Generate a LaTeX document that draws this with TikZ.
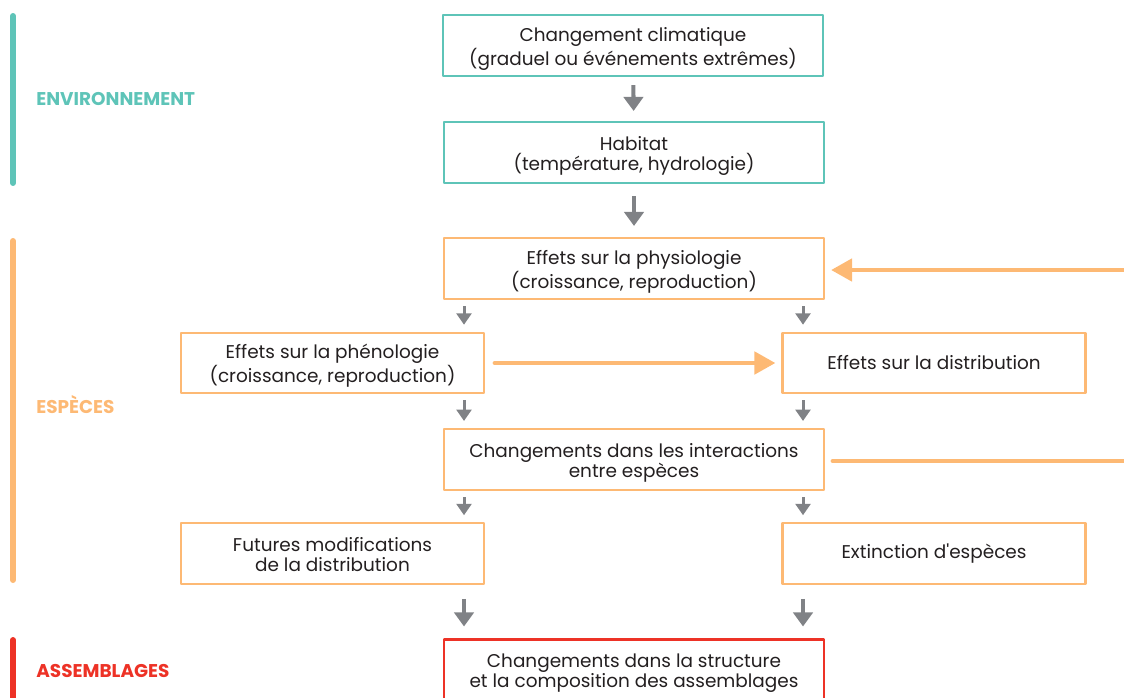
\documentclass[tikz,border=0pt]{standalone}
\usepackage{fontspec}
\setmainfont{Poppins}
\usetikzlibrary{arrows.meta}
\newcommand{\hautligne}{\rule{0pt}{13pt}}
\newcommand{\basligne}{\rule[-4.2pt]{0pt}{0pt}}
\begin{document}
\begin{tikzpicture}[x=0.02cm, y=-0.02cm, line cap=round, line join=round,
  box/.style={draw=#1, line width=1.2pt, fill=white, align=center, inner sep=0pt,
    text=txtdark, font=\fontsize{10.5}{11.2}\selectfont},
  widebox/.style={box=#1, minimum width=7.6cm, minimum height=1.22cm},
  sidebox/.style={box=#1, minimum width=6.06cm, minimum height=1.21cm},
  bigarrow/.style={draw=arrgray, line width=2.3pt, line cap=butt,
    -{Triangle[length=8pt, width=11pt]}},
  smallarrow/.style={draw=arrgray, line width=1.7pt, line cap=butt,
    -{Triangle[length=6.5pt, width=8.5pt]}, shorten <=0.12cm, shorten >=0.14cm},
  looparrow/.style={draw=orng, line width=2.8pt},
  sidelabel/.style={anchor=west, inner sep=0pt, font=\fontsize{10.5}{12}\selectfont\bfseries, text=#1},
  bar/.style={draw=#1, line width=3.4pt}]
  \definecolor{teal}{RGB}{94,196,184}
  \definecolor{orng}{RGB}{253,185,116}
  \definecolor{rouge}{RGB}{237,50,38}
  \definecolor{arrgray}{RGB}{128,130,134}
  \definecolor{txtdark}{RGB}{35,31,32}
  \useasboundingbox (0,0) rectangle (1124,697);
  \clip (0,0) rectangle (1124,697);

  % bandes a gauche
  \draw[bar=teal] (13,16) -- (13,183);
  \draw[bar=orng] (13,241) -- (13,580);
  \draw[bar=rouge] (13,640) -- (13,720);
  \node[sidelabel=teal] (lenv) at (36,99) {ENVIRONNEMENT};
  \node[sidelabel=orng] (lesp) at (36,405) {ESPÈCES};
  \node[sidelabel=rouge] (lass) at (36,671) {ASSEMBLAGES};

  % boites
  \node[widebox=teal] (clim) at (633,45.5) {\hautligne Changement climatique\\(graduel ou événements extrêmes)\basligne};
  \node[widebox=teal] (hab) at (634,152.5) {\hautligne Habitat\\(température, hydrologie)\basligne};
  \node[widebox=orng] (phys) at (634,268.5) {\hautligne Effets sur la physiologie\\(croissance, reproduction)\basligne};
  \node[sidebox=orng] (pheno) at (332.5,363) {\hautligne Effets sur la phénologie\\(croissance, reproduction)\basligne};
  \node[sidebox=orng] (distr) at (934,363) {Effets sur la distribution};
  \node[widebox=orng] (inter) at (634,459.5) {\hautligne Changements dans les interactions\\entre espèces\basligne};
  \node[sidebox=orng] (futur) at (332.5,553.5) {\hautligne Futures modifications\\de la distribution\basligne};
  \node[sidebox=orng] (extinc) at (934,553.5) {Extinction d\textquotesingle espèces};
  \node[widebox=rouge] (assemb) at (634,670) {\hautligne Changements dans la structure\\et la composition des assemblages\basligne};

  \coordinate (xl) at (464,0);
  \coordinate (xr) at (803,0);
  \coordinate (fbin) at (1140,270);
  \coordinate (fbout) at (1140,461);

  % fleches grises
  \draw[bigarrow, shorten <=0.16cm, shorten >=0.2cm] (clim) -- (hab);
  \draw[bigarrow, shorten <=0.24cm, shorten >=0.22cm] (hab) -- (phys);
  \draw[smallarrow] (phys.south -| xl) -- (pheno.north -| xl);
  \draw[smallarrow] (phys.south -| xr) -- (distr.north -| xr);
  \draw[smallarrow] (pheno.south -| xl) -- (inter.north -| xl);
  \draw[smallarrow] (distr.south -| xr) -- (inter.north -| xr);
  \draw[smallarrow] (inter.south -| xl) -- (futur.north -| xl);
  \draw[smallarrow] (inter.south -| xr) -- (extinc.north -| xr);
  \draw[bigarrow, shorten <=0.28cm, shorten >=0.24cm] (futur.south -| xl) -- (assemb.north -| xl);
  \draw[bigarrow, shorten <=0.28cm, shorten >=0.24cm] (extinc.south -| xr) -- (assemb.north -| xr);

  % fleches orange
  \draw[looparrow, -{Triangle[length=12pt, width=12.5pt]}, shorten <=0.2cm, shorten >=0.12cm]
    (pheno.east) -- (distr.west);
  \draw[looparrow, -{Triangle[length=12pt, width=12.5pt]}, shorten >=0.12cm]
    (fbin) -- (phys.east |- fbin);
  \draw[looparrow, shorten <=0.16cm] (inter.east |- fbout) -- (fbout);
\end{tikzpicture}
\end{document}
